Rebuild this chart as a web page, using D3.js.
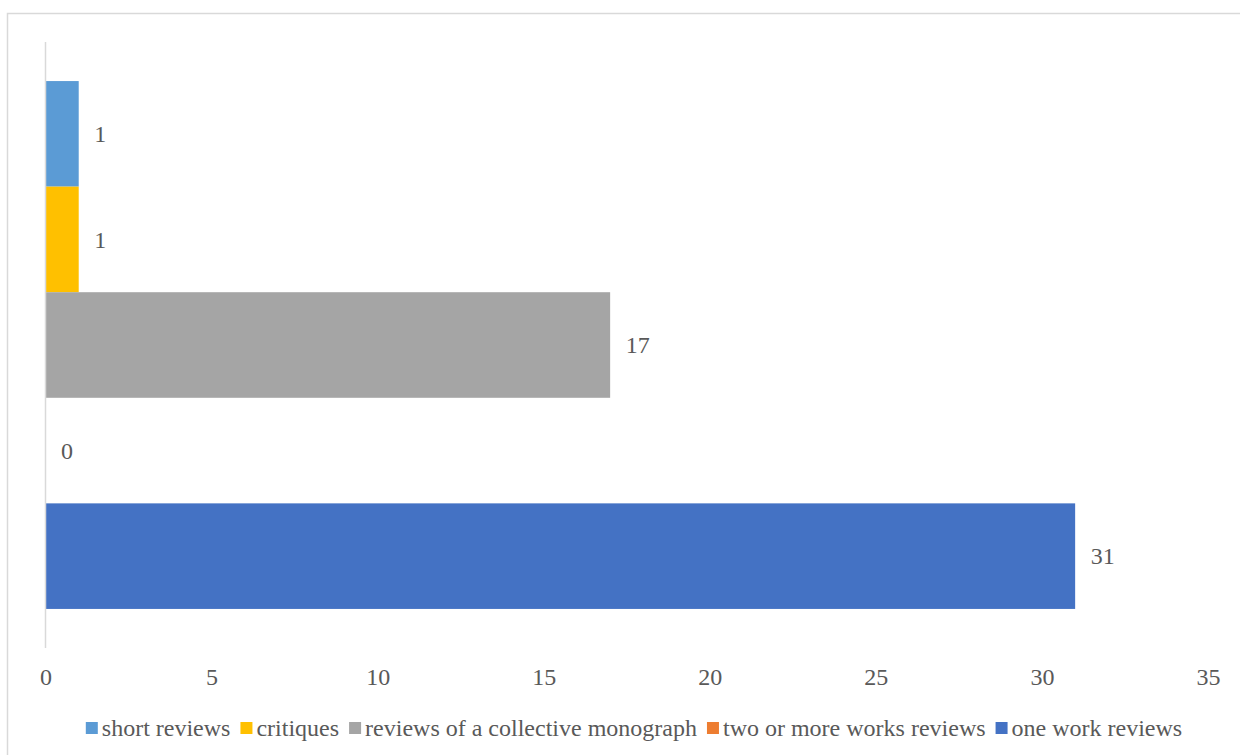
<!DOCTYPE html>
<html>
<head>
<meta charset="utf-8">
<script src="https://cdn.jsdelivr.net/npm/d3@7"></script>
</head>
<body style="margin:0; background:#fff">
<script>
const seriesNames = ['short reviews', 'critiques', 'reviews of a collective monograph', 'two or more works reviews', 'one work reviews']
const seriesValues = [1, 1, 17, 0, 31]
const seriesColors = ['#5B9BD5', '#FFC000', '#A5A5A5', '#ED7D31', '#4472C4']
const xTicks = [0, 5, 10, 15, 20, 25, 30, 35]

const width = 1240, height = 755
const plot = { left: 45.5, right: 1208, top: 42, bottom: 648 }
const serif = '"Liberation Serif"'
const textColor = '#595959'
const fontSize = '24px'

const svg = d3.select('body').append('svg')
  .attr('width', width)
  .attr('height', height)

// chart frame
svg.append('rect')
  .attr('x', 7.5).attr('y', 13.5)
  .attr('width', 1300).attr('height', 800)
  .attr('fill', 'none')
  .attr('stroke', '#d9d9d9')
  .attr('stroke-width', 1.5)

const x = d3.scaleLinear().domain([0, 35]).range([plot.left, plot.right])
const y = d3.scaleBand()
  .domain(seriesNames)
  .range([plot.top, plot.bottom])
  .paddingInner(0)
  .paddingOuter(0.37)

const data = seriesNames.map((name, i) => ({ name, value: seriesValues[i], color: seriesColors[i] }))

svg.append('g').selectAll('rect')
  .data(data)
  .join('rect')
  .attr('x', x(0) + 0.5)
  .attr('y', d => y(d.name))
  .attr('width', d => Math.max(0, x(d.value) - x(0) - 0.5))
  .attr('height', y.bandwidth())
  .attr('fill', d => d.color)

svg.append('g').selectAll('text')
  .data(data)
  .join('text')
  .attr('x', d => x(d.value) + 15.5)
  .attr('y', d => y(d.name) + y.bandwidth() / 2)
  .attr('dy', '0.34em')
  .style('font-family', serif)
  .style('font-size', fontSize)
  .style('fill', textColor)
  .text(d => d.value)

// value axis line
svg.append('line')
  .attr('x1', x(0)).attr('x2', x(0))
  .attr('y1', plot.top).attr('y2', plot.bottom)
  .attr('stroke', '#d9d9d9')
  .attr('stroke-width', 1.5)

const xAxis = svg.append('g')
  .attr('transform', `translate(0, ${plot.bottom})`)
  .call(d3.axisBottom(x).tickValues(xTicks).tickSize(0).tickPadding(20))
xAxis.attr('font-family', null)
xAxis.select('.domain').remove()
xAxis.selectAll('text')
  .style('font-family', serif)
  .style('font-size', fontSize)
  .style('fill', textColor)

// legend
const legend = svg.append('g')
const items = legend.selectAll('g')
  .data(data)
  .join('g')
items.append('rect')
  .attr('width', 12).attr('height', 12)
  .attr('y', -14)
  .attr('fill', d => d.color)
items.append('text')
  .attr('x', 16)
  .style('font-family', serif)
  .style('font-size', fontSize)
  .style('fill', textColor)
  .text(d => d.name)

let cursor = 0
items.each(function () {
  const g = d3.select(this)
  const w = 16 + g.select('text').node().getComputedTextLength()
  g.attr('transform', `translate(${cursor}, 0)`)
  cursor += w + 10
})
const total = cursor - 10
legend.attr('transform', `translate(${634 - total / 2}, 736)`)
</script>
</body>
</html>
